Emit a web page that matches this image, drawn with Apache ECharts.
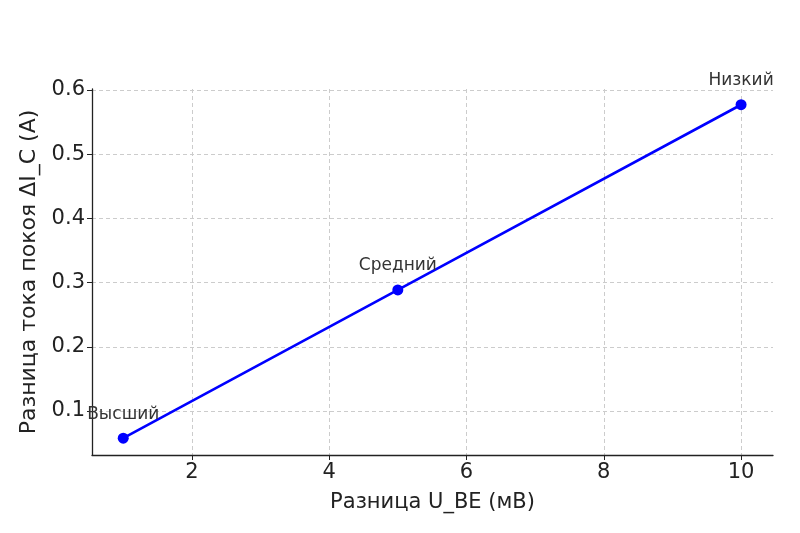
<!DOCTYPE html>
<html lang="ru">
<head>
    <meta charset="UTF-8">
    <title>Разница тока покоя</title>
    <script src="https://cdn.jsdelivr.net/npm/echarts@6/dist/echarts.min.js"></script>
    <style>
        html, body { margin: 0; padding: 0; background: #fff; }
        #chart { width: 800px; height: 533px; }
    </style>
</head>
<body>
<div id="chart"></div>
<script>
    // данные
    var deltaUbe = [1, 5, 10];               // мВ
    var deltaIc = [0.0577, 0.2885, 0.577];   // А
    var levels = ['Высший', 'Средний', 'Низкий'];
    var xTicks = [2, 4, 6, 8, 10];
    var yTicks = [0.1, 0.2, 0.3, 0.4, 0.5, 0.6];

    var font = 'DejaVu Sans';
    var chart = echarts.init(document.getElementById('chart'));

    var points = [];
    for (var i = 0; i < deltaUbe.length; i++)
        points.push({ value: [deltaUbe[i], deltaIc[i]], name: levels[i] });

    var option = {
        animation: false,
        grid: { left: 92, right: 27, top: 89, bottom: 78 },
        xAxis: {
            type: 'value',
            min: 0.545,
            max: 10.465,
            name: 'Разница U_BE (мВ)',
            nameLocation: 'middle',
            nameGap: 37,
            nameTextStyle: { fontFamily: font, fontSize: 21, color: '#222' },
            axisLine: { lineStyle: { color: '#222', width: 1.3 } },
            axisTick: { show: true, length: 5, customValues: xTicks, lineStyle: { color: '#222' } },
            axisLabel: { customValues: xTicks, fontFamily: font, fontSize: 21, color: '#222', margin: 7 },
            splitLine: { show: true, lineStyle: { color: '#ccc', type: [4, 3], width: 1 } }
        },
        yAxis: {
            type: 'value',
            min: 0.0315,
            max: 0.6015,
            name: 'Разница тока покоя ΔI_C (A)',
            nameLocation: 'middle',
            nameGap: 51,
            nameTextStyle: { fontFamily: font, fontSize: 22, color: '#222' },
            axisLine: { show: true, lineStyle: { color: '#222', width: 1.3 } },
            axisTick: { show: true, length: 5, customValues: yTicks, lineStyle: { color: '#222' } },
            axisLabel: { customValues: yTicks, fontFamily: font, fontSize: 21, color: '#222', margin: 7,
                formatter: function (v) { return v.toFixed(1); } },
            splitLine: { show: true, lineStyle: { color: '#ccc', type: [4, 3], width: 1 } }
        },
        series: [{
            type: 'line',
            data: points,
            lineStyle: { color: '#0000ff', width: 2.6 },
            itemStyle: { color: '#0000ff' },
            symbol: 'circle',
            symbolSize: 11,
            label: {
                show: true,
                position: 'top',
                distance: 10,
                formatter: '{b}',
                fontFamily: font,
                fontSize: 17,
                color: '#333'
            }
        }]
    };
    chart.setOption(option);
</script>
</body>
</html>
